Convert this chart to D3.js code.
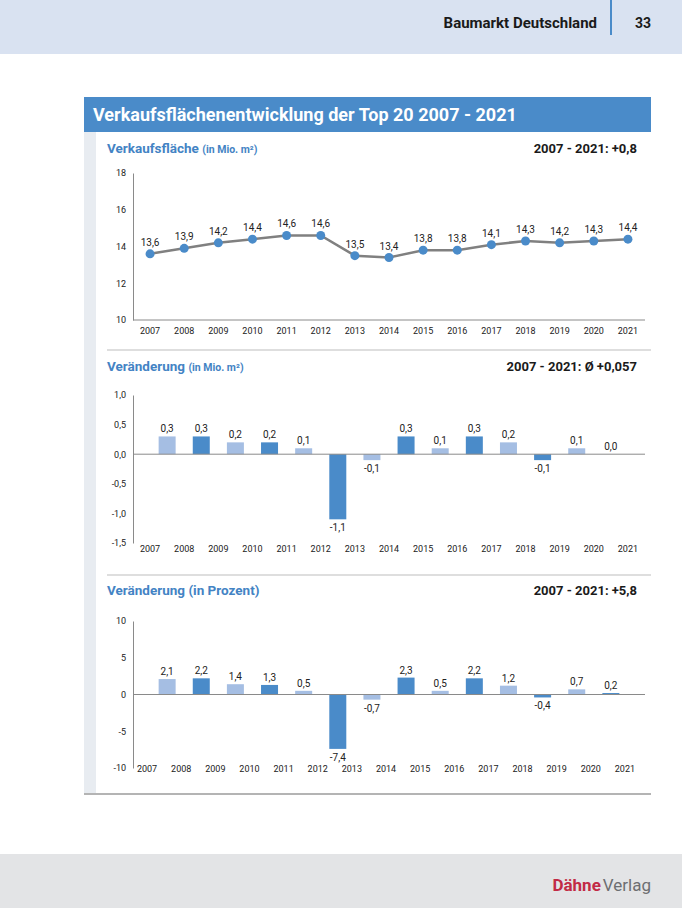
<!DOCTYPE html>
<html>
<head>
<meta charset="utf-8">
<script src="https://cdn.jsdelivr.net/npm/d3@7"></script>
<style>
  body { margin: 0; background: #fff; }
  svg { display: block; font-family: Roboto, "Noto Sans", sans-serif; }
</style>
</head>
<body>
<div id="page"></div>
<script>
// Data
const years = [2007, 2008, 2009, 2010, 2011, 2012, 2013, 2014, 2015, 2016, 2017, 2018, 2019, 2020, 2021];
const area = [13.6, 13.9, 14.2, 14.4, 14.6, 14.6, 13.5, 13.4, 13.8, 13.8, 14.1, 14.3, 14.2, 14.3, 14.4];
const changeYears = [2008, 2009, 2010, 2011, 2012, 2013, 2014, 2015, 2016, 2017, 2018, 2019, 2020, 2021];
const changeAbs = [0.3, 0.3, 0.2, 0.2, 0.1, -1.1, -0.1, 0.3, 0.1, 0.3, 0.2, -0.1, 0.1, 0.0];
const changePct = [2.1, 2.2, 1.4, 1.3, 0.5, -7.4, -0.7, 2.3, 0.5, 2.2, 1.2, -0.4, 0.7, 0.2];
const areaTicks = [10, 12, 14, 16, 18];
const absTicks = [-1.5, -1.0, -0.5, 0.0, 0.5, 1.0];
const pctTicks = [-10, -5, 0, 5, 10];

const width = 682,
    height = 908;

const blue = "#4a8bc9",
    lightBlue = "#a5bee3",
    subBlue = "#4383c4";

const de = d3.formatLocale({ decimal: ",", thousands: ".", grouping: [3], currency: ["", "€"], minus: "-" });
const f1 = de.format(".1f");
const f0 = de.format("d");

const svg = d3
    .select("#page")
    .append("svg")
    .attr("width", width)
    .attr("height", height);

// Header
svg.append("rect").attr("width", width).attr("height", 54).attr("fill", "#d9e2f1");
svg.append("line")
    .attr("x1", 611).attr("x2", 611).attr("y1", 0).attr("y2", 35)
    .attr("stroke", blue).attr("stroke-width", 2);
svg.append("text")
    .attr("x", 597).attr("y", 28)
    .attr("text-anchor", "end")
    .attr("font-size", 15).attr("font-weight", "bold").attr("fill", "#1a1a1a")
    .text("Baumarkt Deutschland");
svg.append("text")
    .attr("x", 643).attr("y", 28)
    .attr("text-anchor", "middle")
    .attr("font-size", 14).attr("font-weight", "bold").attr("fill", "#1a1a1a")
    .text("33");

// Title bar
svg.append("rect").attr("x", 84).attr("y", 97).attr("width", 567).attr("height", 35).attr("fill", blue);
svg.append("text")
    .attr("x", 93).attr("y", 121)
    .attr("font-size", 18).attr("font-weight", "bold").attr("fill", "#fff")
    .text("Verkaufsflächenentwicklung der Top 20 2007 - 2021");

// Left strip and bottom rule
svg.append("rect").attr("x", 84).attr("y", 132).attr("width", 12).attr("height", 662).attr("fill", "#e8ecf1");
svg.append("line")
    .attr("x1", 84).attr("x2", 651).attr("y1", 794).attr("y2", 794)
    .attr("stroke", "#b4b4b4").attr("stroke-width", 2);

// Separators
[350, 575].forEach((y) => {
    svg.append("line")
        .attr("x1", 107).attr("x2", 651).attr("y1", y).attr("y2", y)
        .attr("stroke", "#bdbdbd").attr("stroke-width", 1);
});

// Footer
svg.append("rect").attr("x", 0).attr("y", 854).attr("width", width).attr("height", 54).attr("fill", "#e3e4e6");
const logo = svg.append("text").attr("x", 651).attr("y", 891).attr("text-anchor", "end").attr("font-size", 17);
logo.append("tspan").attr("fill", "#c22a45").attr("font-weight", "bold").text("Dähne");
logo.append("tspan").attr("fill", "#6d6e71").attr("dx", 2).text("Verlag");

// Shared x scale
const x = d3.scaleBand().domain(years).range([133, 645]).padding(0);

function heading(y, main, unit, unitSmall, right) {
    const t = svg.append("text")
        .attr("x", 107).attr("y", y)
        .attr("font-weight", "bold").attr("fill", subBlue);
    t.append("tspan").attr("font-size", 13.5).text(main);
    t.append("tspan").attr("font-size", unitSmall ? 10.5 : 13.5).text(unit);
    svg.append("text")
        .attr("x", 637).attr("y", y)
        .attr("text-anchor", "end")
        .attr("font-size", 13).attr("font-weight", "bold").attr("fill", "#1a1a1a")
        .text(right);
}

function yAxis(y, ticks, fmt) {
    const g = svg.append("g").attr("transform", "translate(133,0)");
    g.call(d3.axisLeft(y).tickValues(ticks).tickSize(0).tickPadding(7).tickFormat(fmt));
    g.select(".domain").attr("stroke", "#8a8a8a");
    g.selectAll("text").attr("font-size", 9).attr("font-family", "Roboto, sans-serif").attr("fill", "#222");
    return g;
}

function xLabels(yPos, dx) {
    svg.append("g")
        .selectAll("text")
        .data(years)
        .join("text")
        .attr("x", (d) => x(d) + x.bandwidth() / 2 + dx)
        .attr("y", yPos)
        .attr("text-anchor", "middle")
        .attr("font-size", 9).attr("fill", "#222")
        .text((d) => d);
}

// Chart 1: Verkaufsfläche
heading(153, "Verkaufsfläche ", "(in Mio. m²)", true, "2007 - 2021: +0,8");
const y1 = d3.scaleLinear().domain([10, 18]).range([320, 173]);
yAxis(y1, areaTicks, (d) => d);
svg.append("line")
    .attr("x1", 133).attr("x2", 645).attr("y1", y1(10)).attr("y2", y1(10))
    .attr("stroke", "#8a8a8a");
xLabels(334, 0);

const line = d3.line()
    .x((d, i) => x(years[i]) + x.bandwidth() / 2)
    .y((d) => y1(d));
svg.append("path")
    .datum(area)
    .attr("d", line)
    .attr("fill", "none")
    .attr("stroke", "#808080")
    .attr("stroke-width", 2.5);
svg.append("g")
    .selectAll("circle")
    .data(area)
    .join("circle")
    .attr("cx", (d, i) => x(years[i]) + x.bandwidth() / 2)
    .attr("cy", (d) => y1(d))
    .attr("r", 4.5)
    .attr("fill", blue);
svg.append("g")
    .selectAll("text")
    .data(area)
    .join("text")
    .attr("x", (d, i) => x(years[i]) + x.bandwidth() / 2)
    .attr("y", (d) => y1(d) - 8)
    .attr("text-anchor", "middle")
    .attr("font-size", 10).attr("fill", "#222")
    .text((d) => f1(d));

// Bar chart helper
function barChart(y, values, ticks, tickFmt) {
    yAxis(y, ticks, tickFmt);
    const bw = 17;
    const cx = (i) => x(changeYears[i]);
    svg.append("g")
        .selectAll("rect")
        .data(values)
        .join("rect")
        .attr("x", (d, i) => cx(i) - bw / 2)
        .attr("y", (d) => y(Math.max(0, d)))
        .attr("width", bw)
        .attr("height", (d) => Math.abs(y(d) - y(0)))
        .attr("fill", (d, i) => (i % 2 === 0 ? lightBlue : blue));
    svg.append("line")
        .attr("x1", 133).attr("x2", 645).attr("y1", y(0)).attr("y2", y(0))
        .attr("stroke", "#8a8a8a");
    svg.append("g")
        .selectAll("text")
        .data(values)
        .join("text")
        .attr("x", (d, i) => cx(i))
        .attr("y", (d) => (d < 0 ? y(d) + 12 : y(d) - 4))
        .attr("text-anchor", "middle")
        .attr("font-size", 10).attr("fill", "#222")
        .text((d) => f1(d));
}

// Chart 2: Veränderung absolut
heading(371, "Veränderung ", "(in Mio. m²)", true, "2007 - 2021: Ø +0,057");
const y2 = d3.scaleLinear().domain([-1.5, 1.0]).range([543, 395]);
barChart(y2, changeAbs, absTicks, (d) => f1(d));
xLabels(552, 0);

// Chart 3: Veränderung in Prozent
heading(595, "Veränderung ", "(in Prozent)", false, "2007 - 2021: +5,8");
const y3 = d3.scaleLinear().domain([-10, 10]).range([768, 621]);
barChart(y3, changePct, pctTicks, (d) => f0(d));
xLabels(772, -3);
</script>
</body>
</html>
